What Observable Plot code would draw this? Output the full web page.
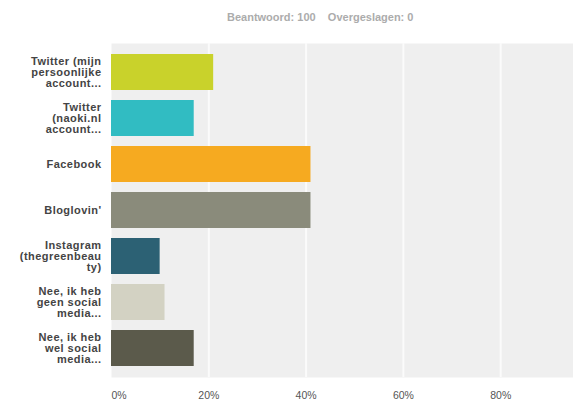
<!DOCTYPE html>
<html>
<head>
<meta charset="utf-8">
<script src="https://cdn.jsdelivr.net/npm/d3@7"></script>
<script src="https://cdn.jsdelivr.net/npm/@observablehq/plot@0.6"></script>
<style>
  html, body { margin: 0; padding: 0; background: #fff; }
  body { width: 573px; height: 400px; overflow: hidden; font-family: "Liberation Sans", Arial, sans-serif; }
  #sub { box-sizing: border-box; height: 38px; padding-top: 11px; padding-left: 227px;
         font-size: 11px; line-height: 12px; font-weight: bold; color: #acacac; white-space: pre; }
</style>
</head>
<body>
<div id="sub"></div>
<div id="chart"></div>
<script>
const subtitleParts = ["Beantwoord: 100", "Overgeslagen: 0"];
const categories = [
  "Twitter (mijn\npersoonlijke\naccount...",
  "Twitter\n(naoki.nl\naccount...",
  "Facebook",
  "Bloglovin'",
  "Instagram\n(thegreenbeau\nty)",
  "Nee, ik heb\ngeen social\nmedia...",
  "Nee, ik heb\nwel social\nmedia..."
];
const values = [0.21, 0.17, 0.41, 0.41, 0.10, 0.11, 0.17];
const colors = ["#c9d22b", "#31bcc2", "#f6aa20", "#8a8b7b", "#2c6174", "#d3d2c3", "#5b5a4b"];
const tickValues = [0, 0.2, 0.4, 0.6, 0.8];
const gridValues = [0.2, 0.4, 0.6, 0.8];

document.getElementById("sub").textContent = subtitleParts.join("    ");

const data = categories.map((c, i) => ({label: c, value: values[i]}));
const fmt = d3.format(".0%");

const chart = Plot.plot({
  width: 573,
  height: 362,
  marginLeft: 111,
  marginRight: 0,
  marginTop: 5,
  marginBottom: 23,
  style: {fontFamily: "'Liberation Sans', Arial, sans-serif", background: "#fff"},
  x: {domain: [0, 1], range: [111, 597.5], axis: null},
  y: {domain: categories, padding: 0.21, axis: null},
  color: {domain: categories, range: colors},
  marks: [
    Plot.frame({fill: "#efefef"}),
    Plot.ruleX(gridValues, {stroke: "#fbfbfb", strokeWidth: 2}),
    Plot.barX(data, {x: "value", y: "label", fill: "label"}),
    Plot.text(data, {y: "label", text: "label", frameAnchor: "left", dx: -10, textAnchor: "end",
      lineHeight: 1.03, fontSize: 11, fontWeight: "bold", fill: "#444", style: "letter-spacing:0.45px"}),
    Plot.text(tickValues.slice(0, 1), {x: d => d, text: d => fmt(d), frameAnchor: "bottom", dy: 21,
      textAnchor: "start", fontSize: 10.5, fill: "#555"}),
    Plot.text(tickValues.slice(1), {x: d => d, text: d => fmt(d), frameAnchor: "bottom", dy: 21,
      fontSize: 10.5, fill: "#555"})
  ]
});
chart.querySelectorAll("text").forEach(t => { if (t.closest("g") && t.getAttribute("font-weight") === "bold") t.style.letterSpacing = "0.45px"; });
chart.querySelectorAll("g[font-weight='bold']").forEach(g => g.style.letterSpacing = "0.45px");
document.getElementById("chart").appendChild(chart);
</script>
</body>
</html>
